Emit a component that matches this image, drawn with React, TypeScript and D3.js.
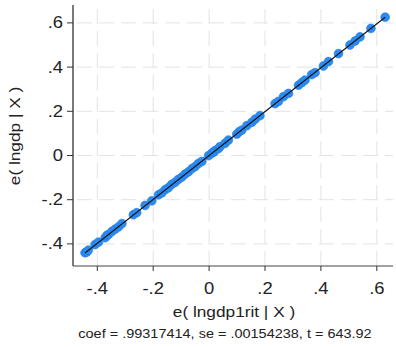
import React from "react";
import * as d3 from "d3";

const xVals = [-0.444, -0.438, -0.432, -0.408, -0.396, -0.372, -0.365, -0.360, -0.348, -0.336, -0.324, -0.312, -0.271, -0.259, -0.229, -0.205, -0.181, -0.169, -0.157, -0.146, -0.134, -0.122, -0.110, -0.098, -0.086, -0.074, -0.062, -0.050, -0.038, -0.026, -0.002, 0.010, 0.016, 0.021, 0.033, 0.039, 0.057, 0.069, 0.099, 0.108, 0.117, 0.135, 0.153, 0.165, 0.182, 0.236, 0.248, 0.266, 0.284, 0.320, 0.332, 0.343, 0.367, 0.379, 0.409, 0.427, 0.463, 0.504, 0.522, 0.540, 0.579, 0.630];
const yVals = [-0.440, -0.437, -0.428, -0.403, -0.392, -0.372, -0.361, -0.358, -0.344, -0.333, -0.323, -0.308, -0.268, -0.259, -0.226, -0.205, -0.178, -0.169, -0.154, -0.146, -0.131, -0.122, -0.108, -0.098, -0.084, -0.074, -0.060, -0.050, -0.036, -0.027, -0.001, 0.011, 0.015, 0.022, 0.031, 0.040, 0.055, 0.070, 0.097, 0.108, 0.115, 0.135, 0.150, 0.165, 0.180, 0.235, 0.245, 0.266, 0.281, 0.318, 0.330, 0.341, 0.366, 0.375, 0.405, 0.425, 0.461, 0.500, 0.518, 0.537, 0.575, 0.626];
const slope = 0.99317414;
const ticks = [-0.4, -0.2, 0, 0.2, 0.4, 0.6];
const tickLabels = ["-.4", "-.2", "0", ".2", ".4", ".6"];
const xTitle = "e( lngdp1rit | X )";
const yTitle = "e( lngdp | X )";
const note = "coef = .99317414, se = .00154238, t = 643.92";

const W = 396, H = 347;
const FONT = "'Liberation Sans', Arial, sans-serif";
const SX = 1.15;

export default function App() {
  const x = d3.scaleLinear().domain([-0.4, 0.6]).range([97.3, 376.8]);
  const y = d3.scaleLinear().domain([-0.4, 0.6]).range([243.9, 22.9]);
  const left = 73, right = 393, top = 5, bottom = 266;
  const pts = xVals.map((v, i) => [v, yVals[i]] as [number, number]);
  const xmin = d3.min(xVals)!, xmax = d3.max(xVals)!;
  const line = d3.line<number>().x((d) => x(d)).y((d) => y(d * slope));
  return (
    <div style={{ position: "absolute", left: 0, top: 0 }}>
      <svg width={W} height={H} style={{ display: "block", background: "#fff" }}>
        {ticks.map((t, i) => (
          <line key={"gx" + i} x1={x(t)} x2={x(t)} y1={top} y2={bottom} stroke="#e3e3e3" strokeWidth={1} strokeDasharray="15 7" strokeDashoffset={-4} />
        ))}
        {ticks.map((t, i) => (
          <line key={"gy" + i} x1={left} x2={right} y1={y(t)} y2={y(t)} stroke="#e3e3e3" strokeWidth={1} strokeDasharray="15 7" strokeDashoffset={-4} />
        ))}
        <line x1={left} x2={left} y1={top} y2={bottom} stroke="#222" strokeWidth={1.2} />
        <line x1={left} x2={right} y1={bottom} y2={bottom} stroke="#444" strokeWidth={1.2} />
        {ticks.map((t, i) => (
          <g key={"ty" + i}>
            <line x1={left - 6} x2={left} y1={y(t)} y2={y(t)} stroke="#333" strokeWidth={1} />
            <text transform={`translate(${left - 10},${y(t) + 5.5}) scale(${SX},1)`} textAnchor="end" fontFamily={FONT} fontSize={16} fill="#222">{tickLabels[i]}</text>
          </g>
        ))}
        {ticks.map((t, i) => (
          <g key={"tx" + i}>
            <line x1={x(t)} x2={x(t)} y1={bottom} y2={bottom + 5} stroke="#333" strokeWidth={1} />
            <text transform={`translate(${x(t)},${294}) scale(${SX},1)`} textAnchor="middle" fontFamily={FONT} fontSize={16} fill="#222">{tickLabels[i]}</text>
          </g>
        ))}
        {pts.map((p, i) => (
          <circle key={"p" + i} cx={x(p[0])} cy={y(p[1])} r={4.4} fill="#2a8cf2" stroke="#2279dc" strokeWidth={0.6} />
        ))}
        <path d={line([xmin, xmax]) || ""} stroke="#111" strokeWidth={1.1} fill="none" />
        <text transform={`translate(${234},${317}) scale(${SX},1)`} textAnchor="middle" fontFamily={FONT} fontSize={15} fill="#222">{xTitle}</text>
        <text transform={`translate(${19.5},${136}) rotate(-90) scale(${SX},1)`} textAnchor="middle" fontFamily={FONT} fontSize={15} fill="#222">{yTitle}</text>
        <text transform={`translate(${225},${337.5}) scale(${SX},1)`} textAnchor="middle" fontFamily={FONT} fontSize={12.6} fill="#222">{note}</text>
      </svg>
    </div>
  );
}
